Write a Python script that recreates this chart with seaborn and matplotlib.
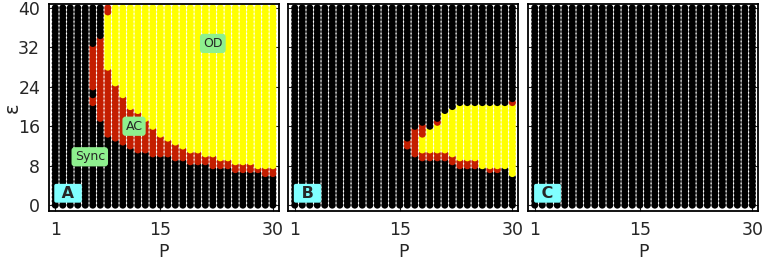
import numpy as np
import pandas as pd
import matplotlib
matplotlib.use("Agg")
import matplotlib.pyplot as plt
import seaborn as sns

# ---------------- data ----------------
P_values = list(range(1, 31))
eps_values = [round(0.8 * k, 1) for k in range(51)]
states = ["Sync", "AC", "OD"]
state_colors = {"Sync": "#000000", "AC": "#c41e00", "OD": "#ffff00"}

# segments (P, eps_from, eps_to, state) on a Sync (black) background
segments_A = [
    (6, 20.8, 21.6, "AC"), (6, 24.0, 32.0, "AC"),
    (7, 17.6, 33.6, "AC"),
    (8, 14.4, 27.2, "AC"), (8, 28.0, 38.4, "OD"), (8, 39.2, 40.0, "AC"),
    (9, 13.6, 24.0, "AC"), (9, 24.8, 40.0, "OD"),
    (10, 12.8, 21.6, "AC"), (10, 22.4, 40.0, "OD"),
    (11, 12.0, 19.2, "AC"), (11, 20.0, 40.0, "OD"),
    (12, 11.2, 18.4, "AC"), (12, 19.2, 40.0, "OD"),
    (13, 11.2, 16.8, "AC"), (13, 17.6, 40.0, "OD"),
    (14, 10.4, 15.2, "AC"), (14, 16.0, 40.0, "OD"),
    (15, 10.4, 13.6, "AC"), (15, 14.4, 40.0, "OD"),
    (16, 10.4, 12.8, "AC"), (16, 13.6, 40.0, "OD"),
    (17, 9.6, 12.0, "AC"), (17, 12.8, 40.0, "OD"),
    (18, 9.6, 11.2, "AC"), (18, 12.0, 40.0, "OD"),
    (19, 8.8, 10.4, "AC"), (19, 11.2, 40.0, "OD"),
    (20, 8.8, 10.4, "AC"), (20, 11.2, 40.0, "OD"),
    (21, 8.8, 9.6, "AC"), (21, 10.4, 40.0, "OD"),
    (22, 8.0, 9.6, "AC"), (22, 10.4, 40.0, "OD"),
    (23, 8.0, 8.8, "AC"), (23, 9.6, 40.0, "OD"),
    (24, 8.0, 8.8, "AC"), (24, 9.6, 40.0, "OD"),
    (25, 7.2, 8.0, "AC"), (25, 8.8, 40.0, "OD"),
    (26, 7.2, 8.0, "AC"), (26, 8.8, 40.0, "OD"),
    (27, 7.2, 8.0, "AC"), (27, 8.8, 40.0, "OD"),
    (28, 7.2, 7.2, "AC"), (28, 8.0, 40.0, "OD"),
    (29, 6.4, 7.2, "AC"), (29, 8.0, 40.0, "OD"),
    (30, 6.4, 7.2, "AC"), (30, 8.0, 40.0, "OD"),
]

segments_B = [
    (16, 12.0, 12.8, "AC"),
    (17, 10.4, 15.2, "AC"),
    (18, 9.6, 16.0, "AC"), (18, 11.2, 13.6, "OD"),
    (19, 9.6, 10.4, "AC"), (19, 11.2, 15.2, "OD"),
    (20, 9.6, 10.4, "AC"), (20, 11.2, 16.0, "OD"), (20, 16.8, 16.8, "AC"),
    (21, 9.6, 10.4, "AC"), (21, 11.2, 18.4, "OD"),
    (22, 8.8, 9.6, "AC"), (22, 10.4, 19.2, "OD"),
    (23, 8.0, 8.8, "AC"), (23, 9.6, 20.0, "OD"),
    (24, 8.0, 8.8, "AC"), (24, 9.6, 20.0, "OD"),
    (25, 8.0, 8.8, "AC"), (25, 9.6, 20.0, "OD"),
    (26, 8.0, 20.0, "OD"),
    (27, 7.2, 7.2, "AC"), (27, 8.0, 20.0, "OD"),
    (28, 7.2, 7.2, "AC"), (28, 8.0, 20.0, "OD"),
    (29, 8.0, 20.0, "OD"),
    (30, 6.4, 20.0, "OD"), (30, 20.8, 20.8, "AC"),
]

segments_C = []

panel_letters = ["A", "B", "C"]
region_labels_A = [("Sync", 5.6, 9.8), ("AC", 11.5, 16.0), ("OD", 22.0, 32.8)]
x_ticks = [1, 15, 30]
y_ticks = [0, 8, 16, 24, 32, 40]


def build_frame(segments):
    rows = []
    for p in P_values:
        for e in eps_values:
            st = "Sync"
            for (sp, lo, hi, s) in segments:
                if sp == p and lo - 1e-6 <= e <= hi + 1e-6:
                    st = s
            rows.append((p, e, st))
    return pd.DataFrame(rows, columns=["P", "eps", "state"])


# ---------------- figure ----------------
sns.set_style("ticks")
plt.rcParams["font.family"] = ["DejaVu Sans"]

W, H = 765, 263
fig = plt.figure(figsize=(W / 100, H / 100), dpi=100)
lefts = [48.5, 288, 528]
axw = 230
bottom_px, top_px = 211, 4

axes = []
for i, (lp, segs) in enumerate(zip(lefts, [segments_A, segments_B, segments_C])):
    ax = fig.add_axes([lp / W, 1 - bottom_px / H, axw / W, (bottom_px - top_px) / H])
    df = build_frame(segs)
    sns.scatterplot(data=df, x="P", y="eps", hue="state", hue_order=states,
                    palette=state_colors, s=26, linewidth=0, marker="o",
                    legend=False, ax=ax)
    ax.set_xlim(0.1, 30.75)
    ax.set_ylim(-1.2, 40.8)
    ax.set_xticks(x_ticks)
    ax.set_yticks(y_ticks)
    ax.tick_params(direction="in", top=True, right=True, length=4, width=0.8,
                   labelsize=12.5)
    ax.tick_params(axis="x", pad=7)
    ax.tick_params(axis="y", pad=6)
    for sp in ax.spines.values():
        sp.set_linewidth(1.3)
        sp.set_color("black")
    ax.set_xlabel("P", fontsize=12.5, labelpad=3)
    if i == 0:
        ax.set_ylabel("ε", fontsize=14)
        ax.yaxis.set_label_coords(-0.115, 0.5)
    else:
        ax.set_ylabel("")
        ax.set_yticklabels([])
    ax.text(2.7, 2.4, " " + panel_letters[i] + " ", fontsize=11.5,
            fontweight="bold", ha="center", va="center", zorder=5,
            bbox=dict(boxstyle="round,pad=0.12", fc="#80ffff", ec="none"))
    axes.append(ax)

for txt, px, ey in region_labels_A:
    axes[0].text(px, ey, txt, fontsize=9, ha="center", va="center", zorder=5,
                 bbox=dict(boxstyle="round,pad=0.25", fc="#8ef08e", ec="none"))

fig.savefig("out.png", dpi=100)
